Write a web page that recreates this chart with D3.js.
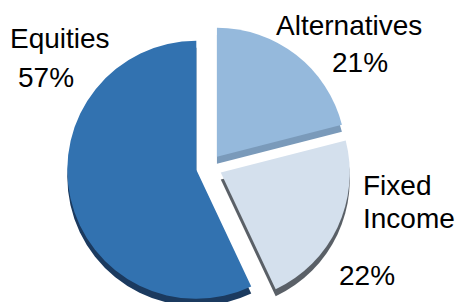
<!DOCTYPE html>
<html>
<head>
<meta charset="utf-8">
<script src="https://cdn.jsdelivr.net/npm/d3@7"></script>
<style>
  html, body { margin: 0; padding: 0; background: #fff; }
  svg { display: block; }
</style>
</head>
<body>
<svg id="svg"></svg>
<script>
// data, clockwise from 12 o'clock
const categories = ["Alternatives", "Fixed Income", "Equities"];
const values = [21, 22, 57];
const labelLines = [["Alternatives", "21%"], ["Fixed", "Income", "22%"], ["Equities", "57%"]];

const width = 457, height = 302;
const cx = 209, cy = 167, radius = 129;
const explode = 13, depth = 7;

const faceColor = d3.scaleOrdinal().domain(categories).range(["#95b9dc", "#d4e0ed", "#3272b0"]);
const sideColor = d3.scaleOrdinal().domain(categories).range(["#7a9aba", "#5a6067", "#1b3a5f"]);

// label layout (anchor x, baseline y per line)
const labelLayout = {
  "Alternatives": [[276, 35], [332, 72]],
  "Fixed Income": [[363, 195], [363, 228], [339, 285]],
  "Equities": [[10, 48], [18, 87]]
};

const data = categories.map((c, i) => ({name: c, value: values[i], lines: labelLines[i]}));

const svg = d3.select("#svg")
    .attr("width", width)
    .attr("height", height)
    .attr("font-family", "Arial, 'Liberation Sans', sans-serif");

const pie = d3.pie().sort(null).value(d => d.value);
const arc = d3.arc().innerRadius(0).outerRadius(radius);
const arcs = pie(data);

const shift = d => {
  const a = (d.startAngle + d.endAngle) / 2;
  return [cx + explode * Math.sin(a), cy - explode * Math.cos(a)];
};

const g = svg.append("g");

// side walls (3D depth)
g.selectAll("path.side")
  .data(arcs)
  .join("path")
    .attr("class", "side")
    .attr("transform", d => { const [x, y] = shift(d); return `translate(${x},${y + depth})`; })
    .attr("fill", d => sideColor(d.data.name))
    .attr("d", arc);

// faces
g.selectAll("path.face")
  .data(arcs)
  .join("path")
    .attr("class", "face")
    .attr("transform", d => { const [x, y] = shift(d); return `translate(${x},${y})`; })
    .attr("fill", d => faceColor(d.data.name))
    .attr("d", arc);

// labels
svg.append("g")
    .attr("font-size", 28)
    .attr("fill", "#000")
  .selectAll("text")
  .data(arcs.flatMap(d => d.data.lines.map((t, i) => ({t, p: labelLayout[d.data.name][i]}))))
  .join("text")
    .attr("x", d => d.p[0])
    .attr("y", d => d.p[1])
    .text(d => d.t);
</script>
</body>
</html>
